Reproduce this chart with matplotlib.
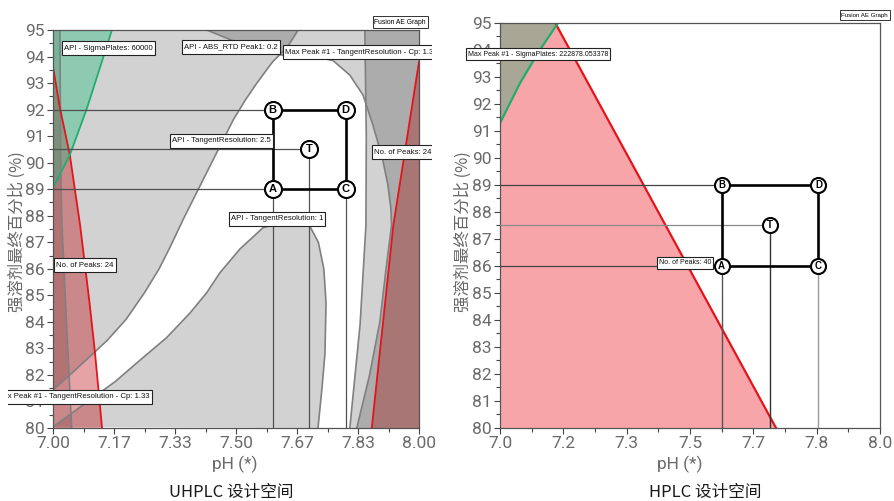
import numpy as np
import matplotlib
matplotlib.use('Agg')
import matplotlib.pyplot as plt
from matplotlib.path import Path
from matplotlib.ticker import FixedLocator, MultipleLocator
from matplotlib.transforms import Bbox, TransformedBbox

TICKFONT = ['Roboto', 'DejaVu Sans']
BOXFONT = ['Liberation Sans', 'DejaVu Sans']
CJK = ['Noto Sans CJK SC', 'DejaVu Sans']

# ---------- UHPLC design space ----------
u_xticks = [7.0, 7 + 1/6, 7 + 2/6, 7.5, 7 + 4/6, 7 + 5/6, 8.0]
u_xlabels = ['7.00', '7.17', '7.33', '7.50', '7.67', '7.83', '8.00']
u_yticks = list(range(80, 96))

# API - TangentResolution: 2.5 (upper edge of the white band)
band_top_ph = [7.0, 7.07, 7.148, 7.20, 7.25, 7.29, 7.32, 7.355, 7.40, 7.45, 7.492, 7.525, 7.557, 7.60, 7.64, 7.67]
band_top_b = [81.43, 82.3, 83.3, 84.1, 85.1, 86.0, 86.82, 87.84, 89.08, 90.45, 91.6, 92.35, 93.0, 93.8, 94.35, 95.0]

# API - TangentResolution: 1 (lower edge of the band and the dome)
dome_ph = [7.0, 7.10, 7.17, 7.238, 7.31, 7.374, 7.42, 7.456, 7.511, 7.574, 7.62, 7.67, 7.702, 7.725, 7.74, 7.746, 7.743, 7.735, 7.724]
dome_b = [80.04, 81.05, 81.75, 82.56, 83.4, 84.33, 85.1, 85.85, 86.75, 87.55, 87.72, 87.72, 87.6, 87.0, 86.0, 84.7, 82.8, 81.5, 80.0]

# Max Peak #1 - TangentResolution - Cp
cp_ph = [7.42, 7.50, 7.56, 7.612, 7.66, 7.72, 7.765, 7.811, 7.847, 7.874, 7.90, 7.915, 7.923, 7.925, 7.91, 7.893, 7.865, 7.83]
cp_b = [95.0, 94.55, 94.25, 94.08, 94.0, 93.98, 93.85, 93.3, 92.55, 91.42, 90.17, 89.16, 88.3, 87.65, 86.0, 84.0, 82.0, 80.0]

# right hand limit
rlim_ph = [7.852, 7.856, 7.855, 7.839, 7.811]
rlim_b = [95.0, 91.0, 87.65, 83.9, 80.0]

# left hand limit
llim_ph = [7.019, 7.021, 7.024, 7.035, 7.051]
llim_b = [95.0, 90.0, 87.8, 84.5, 80.0]

# No. of Peaks: 24
peaks_l_ph = [7.0, 7.019, 7.046, 7.074, 7.10, 7.115, 7.134]
peaks_l_b = [93.6, 92.06, 90.29, 87.65, 84.7, 82.8, 80.0]
peaks_r_ph = [8.0, 7.93, 7.871]
peaks_r_b = [93.8, 87.65, 80.0]

# API - SigmaPlates: 60000
sigma_ph = [7.0, 7.046, 7.093, 7.128, 7.161]
sigma_b = [89.04, 90.29, 92.06, 93.57, 95.0]

u_names = ['A', 'B', 'C', 'D', 'T']
u_pt_ph = [7.6, 7.6, 7.8, 7.8, 7.7]
u_pt_b = [89.0, 92.0, 89.0, 92.0, 90.5]

# ---------- HPLC design space ----------
h_xlabels = ['7.0', '7.2', '7.3', '7.5', '7.7', '7.8', '8.0']
h_yticks = list(range(80, 96))

h_peaks_ph = [7.145, 7.726]
h_peaks_b = [95.0, 80.0]

h_sigma_ph = [7.0, 7.053, 7.105, 7.153]
h_sigma_b = [91.28, 92.77, 93.99, 95.0]

h_names = ['A', 'B', 'C', 'D', 'T']
h_pt_ph = [7.583, 7.583, 7.838, 7.838, 7.71]
h_pt_b = [86.0, 89.0, 86.0, 89.0, 87.5]

GRAY = (0, 0, 0, 0.175)
EDGE = '#808080'
REDLINE = '#e3141b'
GREENLINE = '#1fae6e'


def tag_box(x0, y0, width, height, mutation_size):
	# flat label box, more room above/below the text than beside it
	px = 0.28 * mutation_size
	py = 0.42 * mutation_size
	x0, y0 = x0 - px, y0 - py
	x1, y1 = x0 + width + 2 * px, y0 + height + 2 * py
	return Path([(x0, y0), (x1, y0), (x1, y1), (x0, y1), (x0, y0)], closed=True)


def setup_axes(ax, xlabels, yticks):
	ax.set_xlim(7.0, 8.0)
	ax.set_ylim(80, 95)
	ax.xaxis.set_major_locator(FixedLocator(u_xticks))
	ax.xaxis.set_minor_locator(FixedLocator([7 + (2*k + 1)/12 for k in range(6)]))
	ax.set_xticklabels(xlabels, fontfamily=TICKFONT, fontsize=12.5, color='#6a6a6a')
	ax.set_yticks(yticks)
	ax.set_yticklabels([str(v) for v in yticks], fontfamily=TICKFONT, fontsize=12.5, color='#6a6a6a')
	ax.yaxis.set_minor_locator(MultipleLocator(0.5))
	ax.tick_params(which='major', length=4, width=0.8, color='#444444', pad=2)
	ax.tick_params(which='minor', length=3, width=0.8, color='#444444')
	for s in ax.spines.values():
		s.set_color('#555555')
		s.set_linewidth(0.9)


def box_label(ax, x, y, s, ha='left', size=5.6, clip=None):
	t = ax.text(x, y, s, ha=ha, va='center', fontsize=size, fontfamily=BOXFONT, color='#111111',
				bbox=dict(boxstyle=tag_box, facecolor='white', edgecolor='#222222', linewidth=0.8),
				zorder=8)
	if clip is not None:
		t.set_clip_box(clip)
		t.set_clip_on(True)
	else:
		t.set_clip_on(False)
	return t


def draw_points(ax, names, px, pb, size, fsize):
	ia, ib, ic, id_ = names.index('A'), names.index('B'), names.index('C'), names.index('D')
	sq_x = [px[ia], px[ib], px[id_], px[ic], px[ia]]
	sq_y = [pb[ia], pb[ib], pb[id_], pb[ic], pb[ia]]
	ax.plot(sq_x, sq_y, color='black', lw=1.9, zorder=5, solid_joinstyle='miter')
	ax.scatter(px, pb, s=size, facecolor='white', edgecolor='black', linewidths=1.5, zorder=6)
	for n, x, y in zip(names, px, pb):
		ax.text(x, y, n, ha='center', va='center', fontsize=fsize, fontweight='bold',
				fontfamily='Liberation Sans', zorder=7)


fig = plt.figure(figsize=(8.94, 5.01), dpi=100)

# left panel
ax1 = fig.add_axes([53/894, 1 - 428/501, 366/894, 398/501])
setup_axes(ax1, u_xlabels, u_yticks)

ax1.fill([6.99] + band_top_ph + [6.99], [band_top_b[0]] + band_top_b + [95.5], color=GRAY, lw=0, zorder=1)
ax1.fill(dome_ph, dome_b, color=GRAY, lw=0, zorder=1)
ax1.fill(cp_ph + [8.01, 8.01], cp_b + [79.9, 95.1], color=GRAY, lw=0, zorder=1)
ax1.fill(rlim_ph + [8.01, 8.01], rlim_b + [79.9, 95.1], color=GRAY, lw=0, zorder=1)
ax1.fill(llim_ph + [6.99, 6.99], llim_b + [79.9, 95.1], color=GRAY, lw=0, zorder=1)
ax1.fill(peaks_l_ph + [6.99, 6.99], peaks_l_b + [79.9, peaks_l_b[0]], color=(191/255, 27/255, 31/255, 0.4), lw=0, zorder=1)
ax1.fill(peaks_r_ph + [8.01, 8.01], peaks_r_b + [79.9, peaks_r_b[0]], color=(165/255, 30/255, 30/255, 0.38), lw=0, zorder=1)
ax1.fill(sigma_ph + [6.99, 6.99], sigma_b + [95.1, sigma_b[0]], color=(40/255, 190/255, 130/255, 0.4), lw=0, zorder=1)

for cx, cy in [(band_top_ph, band_top_b), (dome_ph, dome_b), (cp_ph, cp_b), (rlim_ph, rlim_b), (llim_ph, llim_b)]:
	ax1.plot(cx, cy, color=EDGE, lw=1.2, zorder=2)
ax1.plot(peaks_l_ph, peaks_l_b, color=REDLINE, lw=1.3, zorder=2)
ax1.plot(peaks_r_ph, peaks_r_b, color=REDLINE, lw=1.3, zorder=2)
ax1.plot(sigma_ph, sigma_b, color=GREENLINE, lw=1.3, zorder=2)

# guide lines from the set points to the axes
for n in ['B', 'T', 'A']:
	i = u_names.index(n)
	ax1.plot([7.0, u_pt_ph[i]], [u_pt_b[i], u_pt_b[i]], color='#505050', lw=0.9, zorder=3)
for n in ['A', 'T', 'C']:
	i = u_names.index(n)
	ax1.plot([u_pt_ph[i], u_pt_ph[i]], [80, u_pt_b[i]], color='#505050', lw=0.9, zorder=3)
draw_points(ax1, u_names, u_pt_ph, u_pt_b, 150, 8)

clip = TransformedBbox(Bbox.from_extents(8/894, 0, 432/894, 1), fig.transFigure)
box_label(ax1, 7.030, 94.32, 'API - SigmaPlates: 60000')
box_label(ax1, 7.358, 94.36, 'API - ABS_RTD Peak1: 0.2')
box_label(ax1, 7.634, 94.17, 'Max Peak #1 - TangentResolution - Cp: 1.33', clip=clip)
box_label(ax1, 7.596, 90.82, 'API - TangentResolution: 2.5', ha='right')
box_label(ax1, 7.877, 90.4, 'No. of Peaks: 24', clip=clip)
box_label(ax1, 7.486, 87.88, 'API - TangentResolution: 1')
box_label(ax1, 7.008, 86.14, 'No. of Peaks: 24')
box_label(ax1, 7.265, 81.17, 'Max Peak #1 - TangentResolution - Cp: 1.33', ha='right', clip=clip)

fig.text(426/894, 1 - 22/501, 'Fusion AE Graph', ha='right', va='center', fontsize=4.9, fontfamily=BOXFONT,
		 bbox=dict(boxstyle=tag_box, facecolor='white', edgecolor='#333333', linewidth=0.7))

# right panel
ax2 = fig.add_axes([500/894, 1 - 427.7/501, 380/894, 405/501])
setup_axes(ax2, h_xlabels, h_yticks)

ax2.fill(h_peaks_ph + [6.99, 6.99], h_peaks_b + [79.9, 95.1], color=(235/255, 30/255, 40/255, 0.4), lw=0, zorder=1)
ax2.fill(h_sigma_ph + [6.99, 6.99], h_sigma_b + [95.1, h_sigma_b[0]], color=(104/255, 167/255, 131/255, 0.55), lw=0, zorder=1)
ax2.plot(h_peaks_ph, h_peaks_b, color=REDLINE, lw=1.6, zorder=2)
ax2.plot(h_sigma_ph, h_sigma_b, color=GREENLINE, lw=1.6, zorder=2)

for n, c in [('B', '#444444'), ('T', '#8a8a8a'), ('A', '#444444')]:
	i = h_names.index(n)
	ax2.plot([7.0, h_pt_ph[i]], [h_pt_b[i], h_pt_b[i]], color=c, lw=0.9, zorder=3)
for n, c in [('A', '#555555'), ('T', '#333333'), ('C', '#999999')]:
	i = h_names.index(n)
	ax2.plot([h_pt_ph[i], h_pt_ph[i]], [80, h_pt_b[i]], color=c, lw=1.0, zorder=3)
draw_points(ax2, h_names, h_pt_ph, h_pt_b, 117, 7)

box_label(ax2, 6.915, 93.84, 'Max Peak #1 - SigmaPlates: 222878.053378', size=5.0)
box_label(ax2, 7.556, 86.1, 'No. of Peaks: 40', ha='right', size=5.0)

fig.text(888/894, 1 - 15/501, 'Fusion AE Graph', ha='right', va='center', fontsize=4.4, fontfamily=BOXFONT,
		 bbox=dict(boxstyle=tag_box, facecolor='white', edgecolor='#333333', linewidth=0.7))

# axis titles and captions
fig.text(17.5/894, 1 - 232/501, '强溶剂最终百分比 (%)', rotation=90, ha='center', va='center',
		 fontsize=11.8, fontfamily=CJK, color='#666666')
fig.text(463/894, 1 - 232/501, '强溶剂最终百分比 (%)', rotation=90, ha='center', va='center',
		 fontsize=11.8, fontfamily=CJK, color='#666666')
fig.text(235/894, 1 - 464/501, 'pH (*)', ha='center', va='center', fontsize=12.5, fontfamily=TICKFONT, color='#6a6a6a')
fig.text(680/894, 1 - 464/501, 'pH (*)', ha='center', va='center', fontsize=12.5, fontfamily=TICKFONT, color='#6a6a6a')
fig.text(231/894, 1 - 492/501, 'UHPLC 设计空间', ha='center', va='center', fontsize=12, fontfamily=CJK, color='#1a1a1a')
fig.text(705/894, 1 - 492/501, 'HPLC 设计空间', ha='center', va='center', fontsize=12, fontfamily=CJK, color='#1a1a1a')

fig.savefig('out.png', dpi=100)
